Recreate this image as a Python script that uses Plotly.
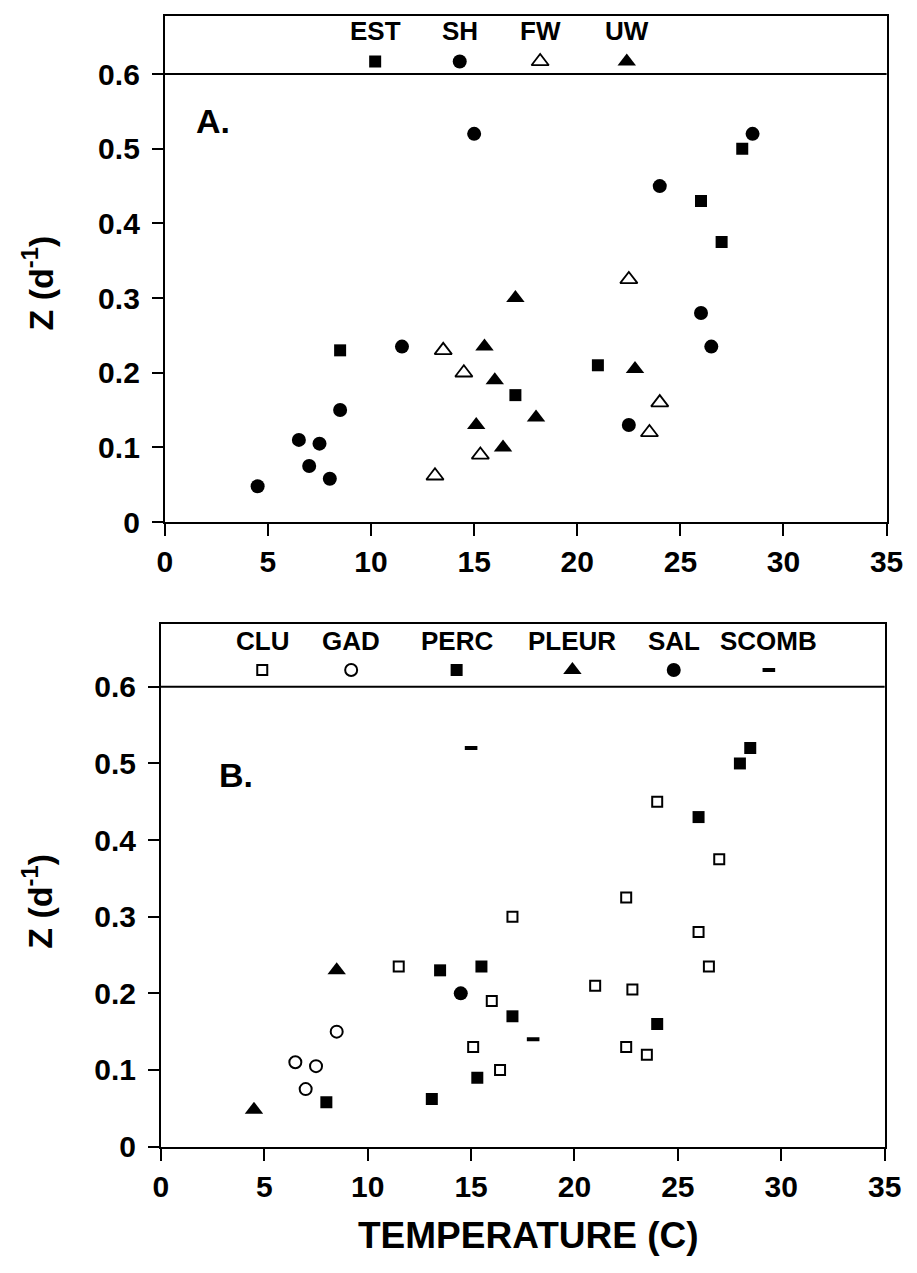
import plotly.graph_objects as go

# temperature (C) and Z (d-1) for each stock, with habitat (panel A) and family (panel B)
temp = [4.5, 6.5, 7.0, 7.5, 8.0, 8.5, 8.5, 11.5, 13.1, 13.5, 14.5, 15.0, 15.1, 15.3, 15.5, 16.0, 16.4,
        17.0, 17.0, 18.0, 21.0, 22.5, 22.5, 22.8, 23.5, 24.0, 24.0, 26.0, 26.0, 26.5, 27.0, 28.0, 28.5]
z = [0.048, 0.11, 0.075, 0.105, 0.058, 0.15, 0.23, 0.235, 0.062, 0.23, 0.20, 0.52, 0.13, 0.09, 0.235, 0.19, 0.10,
     0.30, 0.17, 0.14, 0.21, 0.13, 0.325, 0.205, 0.12, 0.16, 0.45, 0.43, 0.28, 0.235, 0.375, 0.50, 0.52]
habitat = ["SH", "SH", "SH", "SH", "SH", "SH", "EST", "SH", "FW", "FW", "FW", "SH", "UW", "FW", "UW", "UW", "UW",
           "UW", "EST", "UW", "EST", "SH", "FW", "UW", "FW", "FW", "SH", "EST", "SH", "SH", "EST", "EST", "SH"]
family = ["PLEUR", "GAD", "GAD", "GAD", "PERC", "GAD", "PLEUR", "CLU", "PERC", "PERC", "SAL", "SCOMB", "CLU",
          "PERC", "PERC", "CLU", "CLU", "CLU", "PERC", "SCOMB", "CLU", "CLU", "CLU", "CLU", "CLU", "PERC", "CLU",
          "PERC", "CLU", "CLU", "CLU", "PERC", "PERC"]

habitat_order = ["EST", "SH", "FW", "UW"]
family_order = ["CLU", "GAD", "PERC", "PLEUR", "SAL", "SCOMB"]
x_ticks = [0, 5, 10, 15, 20, 25, 30, 35]
y_ticks = [0, 0.1, 0.2, 0.3, 0.4, 0.5, 0.6]
y_tick_text = ["0", "0.1", "0.2", "0.3", "0.4", "0.5", "0.6"]

# legend key placement inside the box above each panel (data units)
habitat_key_x = [10.2, 14.3, 18.2, 22.4]
family_key_x = [4.9, 9.2, 14.3, 19.9, 24.8, 29.4]

styles = {
    "EST": dict(symbol="square", size=12),
    "SH": dict(symbol="circle", size=14),
    "FW": dict(symbol="triangle-up-open", size=15, line=dict(width=1.8, color="black")),
    "UW": dict(symbol="triangle-up", size=16),
    "CLU": dict(symbol="square-open", size=10, line=dict(width=2, color="black")),
    "GAD": dict(symbol="circle-open", size=12, line=dict(width=2, color="black")),
    "PERC": dict(symbol="square", size=12),
    "PLEUR": dict(symbol="triangle-up", size=16),
    "SAL": dict(symbol="circle", size=14),
    "SCOMB": dict(symbol="line-ew", size=9, line=dict(width=4, color="black")),
}

FONT = "Liberation Sans, Arial, sans-serif"

fig = go.Figure()


def add_panel(groups, order, key_x, xa, ya, key_y, label_y):
    for name, kx in zip(order, key_x):
        xs = [t for t, g in zip(temp, groups) if g == name]
        ys = [v for v, g in zip(z, groups) if g == name]
        st = dict(styles[name])
        st.setdefault("line", dict(width=0))
        fig.add_trace(go.Scatter(x=xs, y=ys, mode="markers", marker=dict(color="black", **st),
                                 xaxis=xa, yaxis=ya, showlegend=False, name=name))
        # legend key
        fig.add_trace(go.Scatter(x=[kx], y=[key_y], mode="markers", marker=dict(color="black", **st),
                                 xaxis=xa, yaxis=ya, showlegend=False, hoverinfo="skip"))
        fig.add_annotation(x=kx, y=label_y, xref=xa, yref=ya, text=name, showarrow=False,
                           yanchor="middle", xanchor="center",
                           font=dict(family=FONT, size=26, color="black", weight="bold"))


add_panel(habitat, habitat_order, habitat_key_x, "x", "y", 0.617, 0.658)
add_panel(family, family_order, family_key_x, "x2", "y2", 0.622, 0.660)

axis_common = dict(showline=True, mirror=True, linecolor="black", linewidth=2, ticks="outside",
                   tickwidth=2, tickcolor="black", showgrid=False, zeroline=False,
                   tickfont=dict(family=FONT, size=30, color="black", weight="bold"))

fig.update_layout(
    width=917, height=1273,
    margin=dict(l=0, r=0, t=0, b=0),
    paper_bgcolor="white", plot_bgcolor="white",
    xaxis=dict(domain=[153 / 917, 895 / 917], range=[0, 35], tickvals=x_ticks, ticklen=12,
               ticklabelstandoff=0, anchor="y", **axis_common),
    yaxis=dict(domain=[1 - 521 / 1273, 1 - 8 / 1273], range=[0, 0.678], tickvals=y_ticks,
               ticktext=y_tick_text, ticklen=11, ticklabelstandoff=6, anchor="x", **axis_common),
    xaxis2=dict(domain=[149 / 917, 893 / 917], range=[0, 35], tickvals=x_ticks, ticklen=12,
                ticklabelstandoff=0, anchor="y2", **axis_common),
    yaxis2=dict(domain=[1 - 1154 / 1273, 1 - 624 / 1273], range=[0, 0.6824], tickvals=y_ticks,
                ticktext=y_tick_text, ticklen=11, ticklabelstandoff=6, anchor="x2", **axis_common),
)

# line closing the legend box at Z = 0.6
for xd, yr in [("x domain", "y"), ("x2 domain", "y2")]:
    fig.add_shape(type="line", xref=xd, x0=0, x1=1, yref=yr, y0=0.6, y1=0.6,
                  line=dict(color="black", width=2))

# panel letters
fig.add_annotation(x=2.36, y=0.537, xref="x", yref="y", text="A.", showarrow=False,
                   xanchor="center", yanchor="middle",
                   font=dict(family=FONT, size=34, color="black", weight="bold"))
fig.add_annotation(x=3.62, y=0.485, xref="x2", yref="y2", text="B.", showarrow=False,
                   xanchor="center", yanchor="middle",
                   font=dict(family=FONT, size=34, color="black", weight="bold"))

# y titles
for yr in ["y", "y2"]:
    fig.add_annotation(x=22 / 917, xref="paper", y=0.32, yref=yr, text="Z (d<sup>-1</sup>)",
                       textangle=-90, showarrow=False, xanchor="center", yanchor="middle",
                       font=dict(family=FONT, size=34, color="black", weight="bold"))

fig.add_annotation(x=527 / 917, y=1 - 1244 / 1273, xref="paper", yref="paper", text="TEMPERATURE (C)",
                   showarrow=False, xanchor="center", yanchor="middle",
                   font=dict(family=FONT, size=37, color="black", weight="bold"))

fig.write_html("out.html")
